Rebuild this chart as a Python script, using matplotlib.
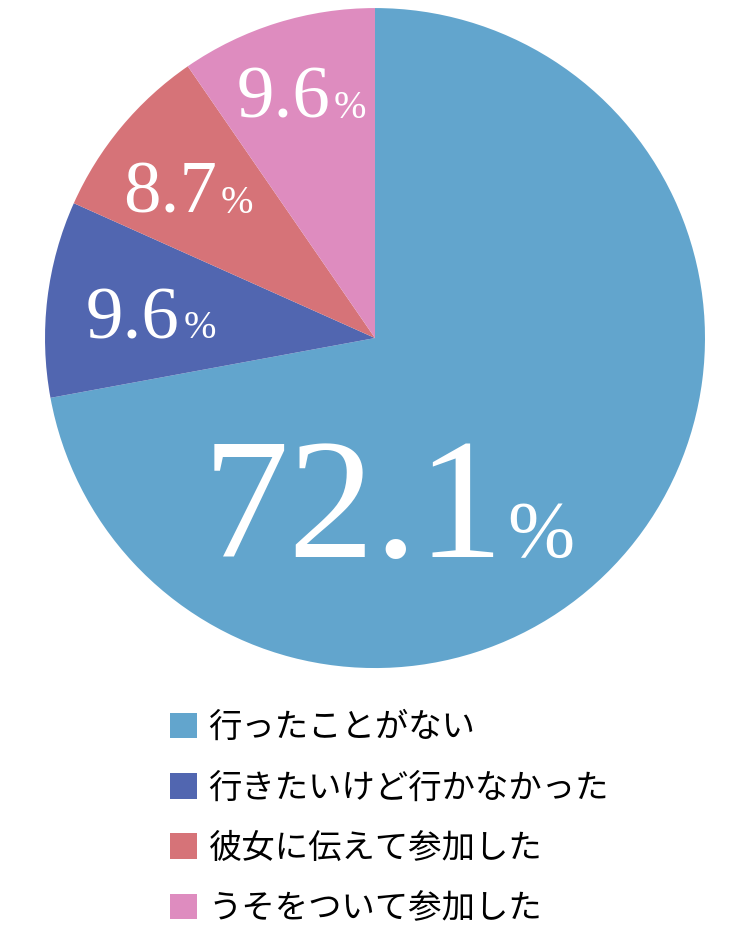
import matplotlib
matplotlib.use("Agg")
import matplotlib.pyplot as plt

labels = ["行ったことがない", "行きたいけど行かなかった", "彼女に伝えて参加した", "うそをついて参加した"]
values = [72.1, 9.6, 8.7, 9.6]
colors = ["#62a5cd", "#5166b0", "#d67378", "#de8cbf"]

fig = plt.figure(figsize=(7.5, 9.38), dpi=100)
ax = fig.add_axes([0.06, 0.2878, 0.88, 0.7036])

wedges, _ = ax.pie(values, colors=colors, startangle=90, counterclock=False,
                   radius=1, wedgeprops=dict(linewidth=0))
ax.set_xlim(-1, 1)
ax.set_ylim(-1, 1)
ax.set_aspect("equal")
ax.axis("off")

# label anchor (split point between number and %), baseline, sizes
label_pos = [(0.39, -0.664), (-0.591, 0.0), (-0.479, 0.379), (-0.136, 0.667)]
num_sizes = [124, 54, 54, 54]
pct_sizes = [58, 28, 28, 28]
serif = ["Liberation Serif", "DejaVu Serif"]
for v, (x, y), ns, ps in zip(values, label_pos, num_sizes, pct_sizes):
    ax.text(x, y, f"{v:.1f}", ha="right", va="baseline", color="white",
            fontsize=ns, family=serif)
    ax.text(x + 0.01, y, "%", ha="left", va="baseline", color="white",
            fontsize=ps, family=serif)

fig.legend(wedges, labels, loc="upper left", bbox_to_anchor=(0.226, 0.243),
           frameon=False, prop={"family": ["Noto Sans CJK JP", "DejaVu Sans"], "size": 24},
           handlelength=0.82, handleheight=0.82, handletextpad=0.35,
           labelspacing=0.76, borderpad=0, borderaxespad=0)

fig.savefig("out.png", dpi=100, facecolor="white")
